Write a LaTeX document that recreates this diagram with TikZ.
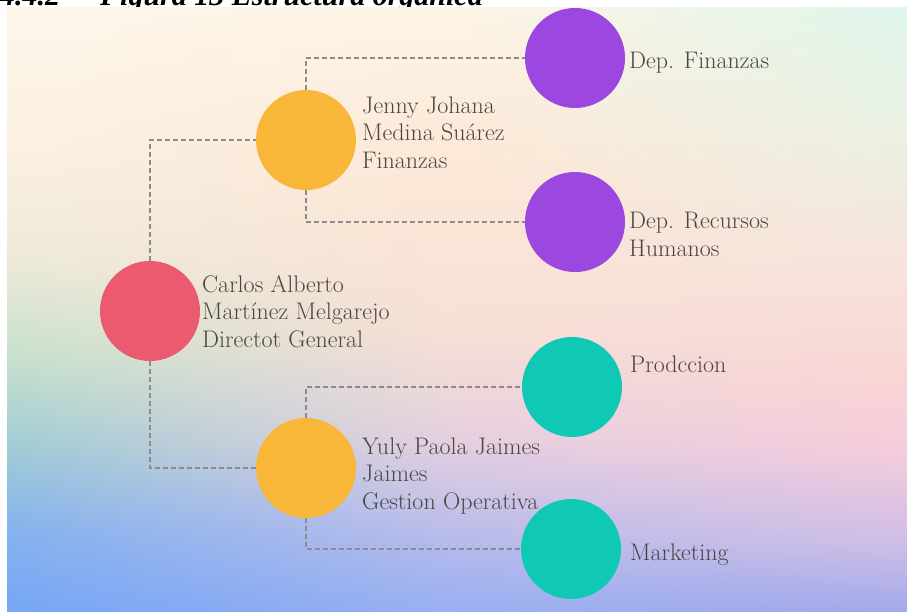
\documentclass[tikz,border=0pt]{standalone}
\usepackage{fontspec}
\usepackage{tikz}
\usetikzlibrary{positioning,fadings}
\newfontfamily\captfont{Liberation Serif}

% colours
\definecolor{orgred}{HTML}{EC5A6F}
\definecolor{orgorange}{HTML}{F9B73A}
\definecolor{orgpurple}{HTML}{9C47DF}
\definecolor{orgteal}{HTML}{10C9B4}
\definecolor{orgtext}{HTML}{4A4644}
\definecolor{orgline}{HTML}{8C8C8C}

% background columns (bottom to top)
\pgfdeclareverticalshading{bgleft}{100bp}{%
  color(0bp)=(rgb,255:red,118;green,166;blue,247);
  color(25bp)=(rgb,255:red,118;green,166;blue,247);
  color(31.7bp)=(rgb,255:red,133;green,179;blue,238);
  color(38.3bp)=(rgb,255:red,159;green,203;blue,214);
  color(45.8bp)=(rgb,255:red,198;green,225;blue,205);
  color(54.1bp)=(rgb,255:red,238;green,234;blue,216);
  color(63.2bp)=(rgb,255:red,251;green,241;blue,226);
  color(75bp)=(rgb,255:red,253;green,247;blue,234);
  color(100bp)=(rgb,255:red,253;green,247;blue,234)}
\pgfdeclareverticalshading{bgmid}{100bp}{%
  color(0bp)=(rgb,255:red,154;green,176;blue,242);
  color(25bp)=(rgb,255:red,154;green,176;blue,242);
  color(30.8bp)=(rgb,255:red,183;green,187;blue,236);
  color(39.1bp)=(rgb,255:red,230;green,208;blue,224);
  color(48.2bp)=(rgb,255:red,248;green,224;blue,214);
  color(63.2bp)=(rgb,255:red,253;green,233;blue,216);
  color(75bp)=(rgb,255:red,254;green,244;blue,230);
  color(100bp)=(rgb,255:red,254;green,244;blue,230)}
\pgfdeclareverticalshading{bgright}{100bp}{%
  color(0bp)=(rgb,255:red,163;green,169;blue,235);
  color(25bp)=(rgb,255:red,163;green,169;blue,235);
  color(30.8bp)=(rgb,255:red,208;green,191;blue,230);
  color(38.3bp)=(rgb,255:red,245;green,204;blue,220);
  color(44.1bp)=(rgb,255:red,250;green,213;blue,214);
  color(54.9bp)=(rgb,255:red,246;green,230;blue,220);
  color(67.3bp)=(rgb,255:red,232;green,244;blue,230);
  color(75bp)=(rgb,255:red,224;green,246;blue,236);
  color(100bp)=(rgb,255:red,224;green,246;blue,236)}
\tikzfading[name=fadetoright, left color=transparent!100, right color=transparent!0]

\tikzset{
  unit/.style={circle, minimum size=100pt, inner sep=0pt},
  orgtxt/.style={anchor=base west, align=left, inner sep=0pt, text=orgtext,
    font=\fontsize{24}{27.5}\selectfont},
  link/.style={draw=orgline, line width=1.2pt, dash pattern=on 5pt off 3pt}
}

\begin{document}
\begin{tikzpicture}[x=1pt, y=-1pt]
    \useasboundingbox (0,0) rectangle (907,611);

    % caption, cut off at the top as in the source
    \node[anchor=base west, inner sep=0pt,
      font=\captfont\bfseries\itshape\fontsize{30}{30}\selectfont] (capt) at (0,5)
      {4.4.2\hspace{40pt}Figura 13 Estructura orgánica};

    % background
    \shade[shading=bgleft] (7,7) rectangle (457,611);
    \shade[shading=bgmid, path fading=fadetoright] (7,7) rectangle (457,611);
    \shade[shading=bgmid] (456,7) rectangle (907,611);
    \shade[shading=bgright, path fading=fadetoright] (456,7) rectangle (907,611);

    % Nodes
    \node[unit, fill=orgred] (carlos) at (150,311) {};
    \node[unit, fill=orgorange] (jenny) at (306,140) {};
    \node[unit, fill=orgorange] (yuly) at (306,468) {};
    \node[unit, fill=orgpurple] (finanzas) at (575,58) {};
    \node[unit, fill=orgpurple] (rrhh) at (575,222) {};
    \node[unit, fill=orgteal] (prod) at (572,387) {};
    \node[unit, fill=orgteal] (mkt) at (571,549) {};

    % Labels (placed at the baseline of their last line)
    \node[orgtxt] (carlostxt) at (202,347) {Carlos Alberto\\Martínez Melgarejo\\Directot General};
    \node[orgtxt] (jennytxt) at (362,168) {Jenny Johana\\Medina Suárez\\Finanzas};
    \node[orgtxt] (yulytxt) at (362,509) {Yuly Paola Jaimes\\Jaimes\\Gestion Operativa};
    \node[orgtxt] (finanzastxt) at (629,68) {Dep. Finanzas};
    \node[orgtxt] (rrhhtxt) at (629,256) {Dep. Recursos\\Humanos};
    \node[orgtxt] (prodtxt) at (630,372) {Prodccion};
    \node[orgtxt] (mkttxt) at (630,560) {Marketing};

    % Edges
    \draw[link] (carlos.north) |- (jenny.west);
    \draw[link] (carlos.south) |- (yuly.west);
    \draw[link] (jenny.north) |- (finanzas.west);
    \draw[link] (jenny.south) |- (rrhh.west);
    \draw[link] (yuly.north) |- (prod.west);
    \draw[link] (yuly.south) |- (mkt.west);
\end{tikzpicture}
\end{document}
